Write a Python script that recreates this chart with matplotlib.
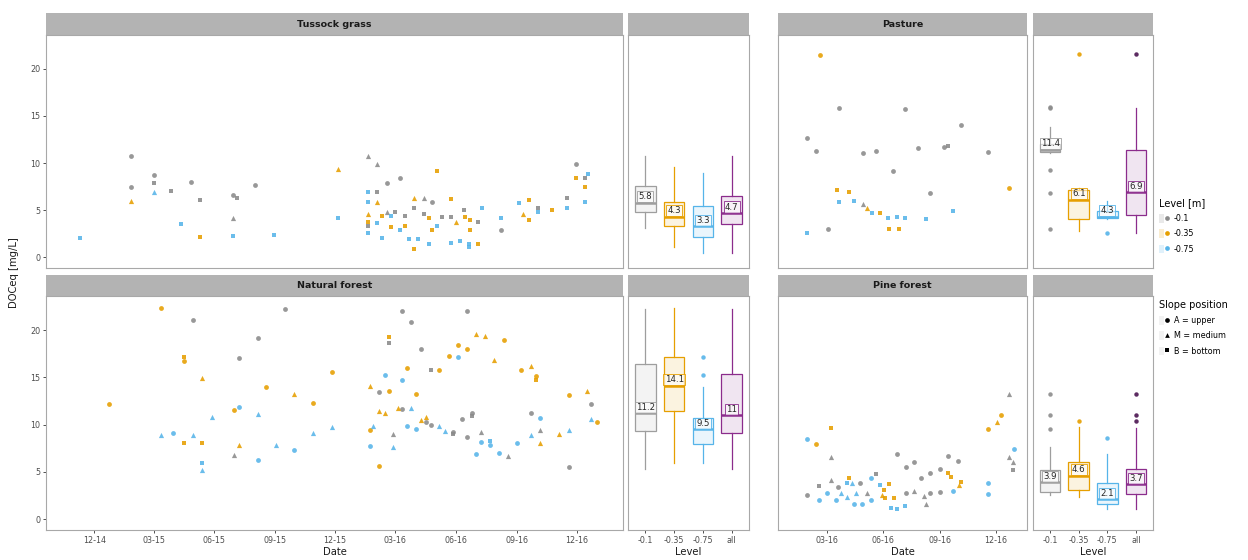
import matplotlib
matplotlib.use('Agg')
import matplotlib.pyplot as plt
import matplotlib.dates as mdates
from matplotlib.lines import Line2D
from matplotlib.patches import Patch
from matplotlib.legend_handler import HandlerTuple
import pandas as pd

# ---------------- data ----------------
levels = ["-0.1", "-0.35", "-0.75"]
box_cats = ["-0.1", "-0.35", "-0.75", "all"]
slopes = ["A", "M", "B"]
slope_labels = ["A = upper", "M = medium", "B = bottom"]

tg_dates = ["2014-11-10", "2015-01-26", "2015-01-26", "2015-01-26", "2015-03-02", "2015-03-02", "2015-03-02",
            "2015-03-27", "2015-04-12", "2015-04-26", "2015-05-10", "2015-05-10", "2015-06-29", "2015-07-06",
            "2015-06-29", "2015-06-29", "2015-08-02", "2015-08-30", "2015-12-06", "2015-12-06", "2016-01-19",
            "2016-02-02", "2016-01-19", "2016-01-19", "2016-02-02", "2016-02-02", "2016-01-19", "2016-01-19",
            "2016-01-19", "2016-01-19", "2016-02-02", "2016-02-10", "2016-02-10", "2016-02-17", "2016-02-17",
            "2016-02-23", "2016-02-23", "2016-02-29", "2016-03-08", "2016-03-08", "2016-03-16", "2016-03-16",
            "2016-03-22", "2016-03-29", "2016-03-29", "2016-03-29", "2016-04-05", "2016-04-13", "2016-04-13",
            "2016-04-21", "2016-04-21", "2016-04-26", "2016-04-26", "2016-05-04", "2016-05-04", "2016-05-11",
            "2016-05-25", "2016-05-25", "2016-05-25", "2016-06-01", "2016-06-07", "2016-06-13", "2016-06-15",
            "2016-06-21", "2016-06-21", "2016-06-22", "2016-06-22", "2016-07-04", "2016-07-04", "2016-07-11",
            "2016-08-08", "2016-08-08", "2016-09-05", "2016-09-11", "2016-09-19", "2016-09-19", "2016-10-03",
            "2016-10-03", "2016-10-24", "2016-11-16", "2016-11-16", "2016-11-30", "2016-11-30", "2016-12-13",
            "2016-12-13", "2016-12-13", "2016-12-18"]
tg_values = [2.0, 10.7, 7.5, 6.0, 8.7, 7.9, 6.9, 7.0, 3.5, 8.0, 6.1, 2.1, 6.6, 6.3, 4.2, 2.2, 7.7, 2.4, 9.4, 4.2,
             10.8, 9.9, 6.9, 5.9, 6.9, 5.9, 4.6, 3.7, 3.3, 2.6, 3.6, 2.0, 4.4, 7.9, 4.8, 4.4, 3.2, 4.8, 8.4, 2.9,
             4.4, 3.3, 1.9, 0.9, 6.3, 5.2, 1.9, 6.3, 4.6, 1.4, 4.2, 5.9, 2.9, 9.2, 3.3, 4.3, 6.2, 4.3, 1.5, 3.7,
             1.7, 5.0, 4.3, 1.4, 1.1, 2.9, 3.9, 3.7, 1.4, 5.2, 4.2, 2.9, 5.8, 4.6, 6.1, 3.9, 5.2, 4.8, 5.0, 6.3,
             5.2, 9.9, 8.4, 8.4, 7.5, 5.9, 8.8]
tg_levels = ["-0.75", "-0.1", "-0.1", "-0.35", "-0.1", "-0.1", "-0.75", "-0.1", "-0.75", "-0.1", "-0.1", "-0.35",
             "-0.1", "-0.1", "-0.1", "-0.75", "-0.1", "-0.75", "-0.35", "-0.75", "-0.1", "-0.1", "-0.75", "-0.75",
             "-0.1", "-0.35", "-0.35", "-0.35", "-0.1", "-0.75", "-0.75", "-0.75", "-0.35", "-0.1", "-0.1", "-0.75",
             "-0.35", "-0.1", "-0.1", "-0.75", "-0.1", "-0.35", "-0.75", "-0.35", "-0.35", "-0.1", "-0.75", "-0.1",
             "-0.1", "-0.75", "-0.35", "-0.1", "-0.35", "-0.35", "-0.75", "-0.1", "-0.35", "-0.1", "-0.75", "-0.35",
             "-0.75", "-0.1", "-0.35", "-0.75", "-0.75", "-0.35", "-0.35", "-0.1", "-0.35", "-0.75", "-0.75", "-0.1",
             "-0.75", "-0.35", "-0.35", "-0.35", "-0.1", "-0.75", "-0.35", "-0.1", "-0.75", "-0.1", "-0.35", "-0.1",
             "-0.35", "-0.75", "-0.75"]
tg_slopes = ["B", "A", "A", "M", "A", "B", "M", "B", "B", "A", "B", "B", "A", "B", "M", "B", "A", "B", "M", "B",
             "M", "M", "B", "B", "B", "M", "M", "B", "B", "B", "B", "B", "B", "A", "M", "B", "B", "B", "A", "B",
             "B", "B", "B", "B", "M", "B", "B", "M", "B", "B", "B", "A", "B", "B", "B", "B", "B", "B", "B", "M",
             "B", "B", "B", "B", "B", "B", "B", "B", "B", "B", "B", "A", "B", "M", "B", "B", "B", "B", "B", "B",
             "B", "A", "B", "B", "B", "B", "B"]

nf_dates = ["2014-12-23", "2015-03-12", "2015-03-12", "2015-03-31", "2015-04-16", "2015-04-16", "2015-04-16",
            "2015-04-30", "2015-04-30", "2015-05-14", "2015-05-14", "2015-05-14", "2015-05-14", "2015-05-28",
            "2015-07-01", "2015-07-01", "2015-07-09", "2015-07-09", "2015-07-09", "2015-08-06", "2015-08-06",
            "2015-08-06", "2015-08-18", "2015-09-02", "2015-09-16", "2015-09-30", "2015-09-30", "2015-10-28",
            "2015-10-28", "2015-11-26", "2015-11-26", "2016-01-23", "2016-01-23", "2016-01-23", "2016-01-28",
            "2016-02-06", "2016-02-06", "2016-02-06", "2016-02-14", "2016-02-14", "2016-02-21", "2016-02-21",
            "2016-02-21", "2016-02-27", "2016-02-27", "2016-03-05", "2016-03-11", "2016-03-11", "2016-03-11",
            "2016-03-19", "2016-03-19", "2016-03-25", "2016-03-25", "2016-04-01", "2016-04-01", "2016-04-09",
            "2016-04-09", "2016-04-16", "2016-04-16", "2016-04-24", "2016-04-24", "2016-05-07", "2016-05-07",
            "2016-05-15", "2016-05-21", "2016-05-28", "2016-05-28", "2016-06-04", "2016-06-04", "2016-06-10",
            "2016-06-18", "2016-06-18", "2016-06-18", "2016-06-25", "2016-06-25", "2016-07-01", "2016-07-01",
            "2016-07-09", "2016-07-09", "2016-07-15", "2016-07-23", "2016-07-23", "2016-07-28", "2016-08-05",
            "2016-08-12", "2016-08-19", "2016-09-01", "2016-09-08", "2016-09-22", "2016-09-22", "2016-09-22",
            "2016-09-30", "2016-09-30", "2016-10-06", "2016-10-06", "2016-10-06", "2016-11-04", "2016-11-19",
            "2016-11-19", "2016-11-19", "2016-12-17", "2016-12-23", "2016-12-23", "2016-12-31"]
nf_values = [12.2, 22.3, 8.9, 9.1, 17.1, 16.7, 8.1, 21.1, 8.9, 14.9, 8.0, 5.9, 5.2, 10.8, 6.8, 11.5, 17.0, 11.9,
             7.8, 19.2, 11.1, 6.3, 14.0, 7.8, 22.2, 13.2, 7.3, 12.3, 9.1, 15.6, 9.7, 14.1, 9.4, 7.7, 9.8, 13.4,
             11.4, 5.6, 15.2, 11.2, 19.3, 18.6, 13.6, 9.0, 7.6, 11.8, 22.0, 14.7, 11.6, 16.0, 9.8, 20.9, 11.8,
             13.2, 9.5, 18.0, 10.5, 10.8, 10.3, 15.8, 10.0, 15.8, 9.9, 9.3, 17.3, 9.2, 9.0, 18.4, 17.1, 10.6,
             22.0, 18.0, 8.7, 11.2, 10.9, 19.6, 6.9, 9.2, 8.2, 19.4, 8.3, 7.8, 16.8, 7.0, 18.9, 6.7, 8.1, 15.8,
             16.2, 8.9, 11.2, 15.1, 14.7, 10.7, 9.4, 8.0, 9.0, 13.1, 9.4, 5.5, 13.5, 12.2, 10.6, 10.3]
nf_levels = ["-0.35", "-0.35", "-0.75", "-0.75", "-0.35", "-0.35", "-0.35", "-0.1", "-0.75", "-0.35", "-0.35",
             "-0.75", "-0.75", "-0.75", "-0.1", "-0.35", "-0.1", "-0.75", "-0.35", "-0.1", "-0.75", "-0.75",
             "-0.35", "-0.75", "-0.1", "-0.35", "-0.75", "-0.35", "-0.75", "-0.35", "-0.75", "-0.35", "-0.35",
             "-0.75", "-0.75", "-0.1", "-0.35", "-0.35", "-0.75", "-0.35", "-0.35", "-0.1", "-0.35", "-0.1",
             "-0.75", "-0.35", "-0.1", "-0.75", "-0.1", "-0.35", "-0.75", "-0.1", "-0.75", "-0.35", "-0.75",
             "-0.1", "-0.35", "-0.35", "-0.1", "-0.1", "-0.1", "-0.35", "-0.75", "-0.75", "-0.35", "-0.1", "-0.1",
             "-0.35", "-0.75", "-0.1", "-0.1", "-0.35", "-0.1", "-0.1", "-0.1", "-0.35", "-0.75", "-0.1", "-0.75",
             "-0.35", "-0.75", "-0.75", "-0.35", "-0.75", "-0.35", "-0.1", "-0.75", "-0.35", "-0.35", "-0.75",
             "-0.1", "-0.35", "-0.35", "-0.75", "-0.1", "-0.35", "-0.35", "-0.35", "-0.75", "-0.1", "-0.35",
             "-0.1", "-0.75", "-0.35"]
nf_slopes = ["A", "A", "M", "A", "B", "A", "B", "A", "M", "M", "B", "B", "M", "M", "M", "A", "A", "A", "M", "A",
             "M", "A", "A", "M", "A", "M", "A", "A", "M", "A", "M", "M", "A", "A", "M", "A", "M", "A", "A", "M",
             "B", "B", "A", "M", "M", "M", "A", "A", "A", "A", "A", "A", "M", "A", "A", "A", "M", "M", "A", "B",
             "A", "A", "M", "M", "A", "A", "B", "A", "A", "A", "A", "A", "A", "A", "B", "M", "A", "M", "A", "M",
             "B", "A", "M", "A", "A", "M", "A", "A", "M", "M", "A", "A", "B", "A", "M", "M", "M", "A", "M", "A",
             "M", "A", "M", "A"]

pa_dates = ["2016-01-29", "2016-01-29", "2016-02-13", "2016-02-20", "2016-03-04", "2016-03-18", "2016-03-22",
            "2016-03-22", "2016-04-07", "2016-04-15", "2016-04-29", "2016-04-29", "2016-05-05", "2016-05-14",
            "2016-05-20", "2016-05-27", "2016-06-09", "2016-06-11", "2016-06-17", "2016-06-23", "2016-06-26",
            "2016-07-06", "2016-07-06", "2016-07-28", "2016-08-10", "2016-08-17", "2016-09-08", "2016-09-15",
            "2016-09-22", "2016-10-06", "2016-11-19", "2016-12-23"]
pa_values = [12.7, 2.6, 11.3, 21.5, 3.0, 7.1, 15.8, 5.9, 6.9, 6.0, 11.1, 5.7, 5.2, 4.7, 11.3, 4.7, 4.2, 3.0, 9.2,
             4.3, 3.0, 15.7, 4.2, 11.6, 4.1, 6.8, 11.7, 11.8, 4.9, 14.0, 11.2, 7.3]
pa_levels = ["-0.1", "-0.75", "-0.1", "-0.35", "-0.1", "-0.35", "-0.1", "-0.75", "-0.35", "-0.75", "-0.1", "-0.1",
             "-0.35", "-0.75", "-0.1", "-0.35", "-0.75", "-0.35", "-0.1", "-0.75", "-0.35", "-0.1", "-0.75", "-0.1",
             "-0.75", "-0.1", "-0.1", "-0.1", "-0.75", "-0.1", "-0.1", "-0.35"]
pa_slopes = ["A", "B", "A", "A", "A", "B", "A", "B", "B", "B", "A", "M", "M", "B", "A", "B", "B", "B", "A", "B",
             "B", "A", "B", "A", "B", "A", "A", "B", "B", "A", "A", "A"]

pf_dates = ["2016-01-29", "2016-01-29", "2016-02-13", "2016-02-17", "2016-02-17", "2016-03-02", "2016-03-09",
            "2016-03-09", "2016-03-09", "2016-03-17", "2016-03-19", "2016-03-24", "2016-04-03", "2016-04-03",
            "2016-04-07", "2016-04-12", "2016-04-14", "2016-04-18", "2016-04-25", "2016-04-28", "2016-05-05",
            "2016-05-12", "2016-05-13", "2016-05-20", "2016-05-27", "2016-05-30", "2016-06-03", "2016-06-04",
            "2016-06-11", "2016-06-14", "2016-06-19", "2016-06-24", "2016-06-24", "2016-07-06", "2016-07-08",
            "2016-07-08", "2016-07-21", "2016-07-21", "2016-08-02", "2016-08-07", "2016-08-10", "2016-08-17",
            "2016-08-17", "2016-09-01", "2016-09-01", "2016-09-15", "2016-09-15", "2016-09-20", "2016-09-23",
            "2016-09-30", "2016-10-02", "2016-10-06", "2016-11-19", "2016-11-19", "2016-11-19", "2016-12-03",
            "2016-12-09", "2016-12-23", "2016-12-31", "2016-12-23", "2016-12-29", "2016-12-29"]
pf_values = [8.5, 2.5, 7.9, 2.0, 3.5, 2.8, 9.6, 6.6, 4.1, 2.0, 3.4, 2.8, 2.3, 3.8, 4.4, 3.8, 1.6, 2.8, 3.8, 1.6,
             2.8, 2.0, 4.3, 4.8, 3.6, 2.6, 3.1, 2.2, 3.7, 1.2, 2.2, 6.9, 1.1, 1.4, 2.8, 5.5, 6.0, 3.0, 4.3, 2.4,
             1.6, 4.9, 2.8, 5.3, 2.9, 6.7, 4.9, 4.5, 3.0, 6.2, 3.6, 3.9, 9.5, 3.8, 2.7, 10.3, 11.0, 13.2, 7.4,
             6.6, 6.0, 5.2]
pf_levels = ["-0.75", "-0.1", "-0.35", "-0.75", "-0.1", "-0.75", "-0.35", "-0.1", "-0.1", "-0.75", "-0.1", "-0.75",
             "-0.75", "-0.75", "-0.35", "-0.75", "-0.75", "-0.75", "-0.1", "-0.75", "-0.1", "-0.75", "-0.75", "-0.1",
             "-0.75", "-0.35", "-0.35", "-0.35", "-0.35", "-0.75", "-0.35", "-0.1", "-0.75", "-0.75", "-0.1", "-0.1",
             "-0.1", "-0.1", "-0.1", "-0.1", "-0.1", "-0.1", "-0.1", "-0.1", "-0.1", "-0.1", "-0.35", "-0.35",
             "-0.75", "-0.1", "-0.35", "-0.35", "-0.35", "-0.75", "-0.75", "-0.35", "-0.35", "-0.1", "-0.75", "-0.1",
             "-0.1", "-0.1"]
pf_slopes = ["A", "A", "A", "A", "B", "A", "B", "M", "M", "A", "A", "M", "M", "B", "B", "M", "A", "M", "A", "A",
             "M", "A", "A", "B", "B", "M", "B", "B", "B", "B", "B", "A", "B", "B", "A", "A", "A", "M", "A", "M",
             "M", "A", "A", "A", "A", "A", "B", "B", "A", "A", "M", "B", "A", "A", "A", "M", "A", "M", "A", "M",
             "M", "B"]

# box statistics: [whisker low, q1, median, q3, whisker high] per category
tg_box = [[3.1, 4.8, 5.8, 7.6, 10.8], [1.05, 3.3, 4.3, 5.9, 9.6], [0.4, 2.1, 3.3, 5.4, 8.9], [0.4, 3.5, 4.7, 6.45, 10.8]]
tg_out = [[], [], [], []]
nf_box = [[5.3, 9.3, 11.2, 16.4, 22.2], [5.95, 11.4, 14.1, 17.1, 22.3], [5.95, 7.9, 9.5, 10.7, 14.0], [5.3, 9.1, 11.0, 15.4, 22.2]]
nf_out = [[], [], [17.2, 15.2], []]
pa_box = [[11.1, 11.2, 11.4, 12.0, 13.8], [2.8, 4.1, 6.1, 7.1, 7.3], [4.1, 4.2, 4.3, 4.9, 6.0], [2.6, 4.5, 6.9, 11.4, 15.8]]
pa_out = [[15.9, 15.8, 9.3, 6.8, 3.0], [21.6], [2.6], [21.6]]
pf_box = [[2.6, 2.9, 3.9, 5.2, 7.6], [2.35, 3.1, 4.6, 6.05, 9.7], [1.1, 1.65, 2.1, 3.8, 6.9], [1.1, 2.65, 3.7, 5.35, 9.6]]
pf_out = [[13.2, 11.0, 9.5], [10.4], [8.6], [13.2, 11.0, 10.4]]

panel_titles = ["Tussock grass", "Pasture", "Natural forest", "Pine forest"]

# ---------------- style ----------------
lvl_colors = {"-0.1": "#8A8A8A", "-0.35": "#E69F00", "-0.75": "#56B4E9", "all": "#8B2C8C"}
box_colors = {"-0.1": "#9E9E9E", "-0.35": "#E69F00", "-0.75": "#56B4E9", "all": "#8B2C8C"}
flier_colors = {"-0.1": "#8C8C8C", "-0.35": "#E69F00", "-0.75": "#56B4E9", "all": "#4A1450"}
slope_markers = {"A": "o", "M": "^", "B": "s"}
slope_sizes = {"A": 12, "M": 14, "B": 10.5}

W, H = 1248, 560
fig = plt.figure(figsize=(W / 100, H / 100), dpi=100)


def rect(x0, y0, x1, y1):
    return [x0 / W, 1 - y1 / H, (x1 - x0) / W, (y1 - y0) / H]


rows = [(35, 268, 13), (296, 530, 275)]
cols = [(46, 623), (628, 749), (778, 1027), (1033, 1153)]
YLIM = (-1.15, 23.6)
SPINE = "#A8A8A8"
TICKC = "#4D4D4D"

scatter_sets = {
    "Tussock grass": (tg_dates, tg_values, tg_levels, tg_slopes, tg_box, tg_out, 0, 0),
    "Pasture": (pa_dates, pa_values, pa_levels, pa_slopes, pa_box, pa_out, 0, 2),
    "Natural forest": (nf_dates, nf_values, nf_levels, nf_slopes, nf_box, nf_out, 1, 0),
    "Pine forest": (pf_dates, pf_values, pf_levels, pf_slopes, pf_box, pf_out, 1, 2),
}
xlims = {0: ("2014-09-19", "2017-02-09"), 2: ("2015-12-13", "2017-01-21")}


def style_axes(ax):
    ax.set_facecolor("white")
    for s in ax.spines.values():
        s.set_color(SPINE)
        s.set_linewidth(0.8)
    ax.tick_params(axis="both", colors="#333333", labelcolor=TICKC, labelsize=5.8, length=2.5, width=0.6, pad=1.5)
    ax.set_ylim(*YLIM)


def add_strip(x0, x1, y0, y1, text):
    sax = fig.add_axes(rect(x0, y0, x1, y1))
    sax.set_facecolor("#B3B3B3")
    for s in sax.spines.values():
        s.set_visible(False)
    sax.set_xticks([])
    sax.set_yticks([])
    if text:
        sax.text(0.5, 0.48, text, ha="center", va="center", fontsize=6.8, fontweight="bold", color="#1A1A1A",
                 transform=sax.transAxes)


for title, (dts, vals, lvls, slps, bstats, bouts, r, c) in scatter_sets.items():
    top, bottom, stop = rows[r]
    x0, x1 = cols[c]
    bx0, bx1 = cols[c + 1]
    add_strip(x0, x1, stop, top, title)
    add_strip(bx0, bx1, stop, top, "")

    df = pd.DataFrame({"date": pd.to_datetime(dts), "value": vals, "level": lvls, "slope": slps})
    ax = fig.add_axes(rect(x0, top, x1, bottom))
    style_axes(ax)
    for lv in levels:
        for sl in slopes:
            sub = df[(df.level == lv) & (df.slope == sl)]
            if len(sub):
                ax.scatter(sub.date, sub.value, marker=slope_markers[sl], s=slope_sizes[sl], c=lvl_colors[lv],
                           alpha=0.88, linewidths=0, zorder=3)
    lo, hi = xlims[c]
    ax.set_xlim(pd.Timestamp(lo), pd.Timestamp(hi))
    ax.xaxis.set_major_locator(mdates.MonthLocator(bymonth=[3, 6, 9, 12]))
    ax.xaxis.set_major_formatter(mdates.DateFormatter("%m-%y"))
    ax.set_yticks([0, 5, 10, 15, 20])
    if c != 0:
        ax.tick_params(axis="y", left=False, labelleft=False)
    if r == 0:
        ax.tick_params(axis="x", bottom=False, labelbottom=False)
    else:
        ax.set_xlabel("Date", fontsize=7.2, color="#1A1A1A", labelpad=2)

    # boxplot panel
    bax = fig.add_axes(rect(bx0, top, bx1, bottom))
    style_axes(bax)
    stats = []
    for i, cat in enumerate(box_cats):
        wl, q1, md, q3, wh = bstats[i]
        stats.append(dict(whislo=wl, q1=q1, med=md, q3=q3, whishi=wh, fliers=bouts[i], label=cat))
    for i, cat in enumerate(box_cats):
        col = box_colors[cat]
        bp = bax.bxp([stats[i]], positions=[i + 1], widths=0.72, patch_artist=True, showcaps=False,
                     boxprops=dict(facecolor=col, edgecolor=col, linewidth=0.9, alpha=1),
                     whiskerprops=dict(color=col, linewidth=0.9),
                     medianprops=dict(color=col, linewidth=1.8),
                     flierprops=dict(marker="o", markersize=3.2, markerfacecolor=flier_colors[cat],
                                     markeredgewidth=0, alpha=0.9))
        for b in bp["boxes"]:
            b.set_facecolor((1, 1, 1, 1))
            b.set_edgecolor(col)
        bax.bxp([stats[i]], positions=[i + 1], widths=0.72, patch_artist=True, showcaps=False,
                showfliers=False, boxprops=dict(facecolor=col, edgecolor="none", alpha=0.12),
                whiskerprops=dict(linewidth=0), medianprops=dict(linewidth=0))
        md = stats[i]["med"]
        bax.text(i + 1, md + 0.15, f"{md:g}", ha="center", va="bottom", fontsize=6.2, color="#262626", zorder=6,
                 bbox=dict(boxstyle="square,pad=0.12", fc=(1, 1, 1, 0.55), ec=col, lw=0.6))
    bax.set_xlim(0.4, 4.6)
    bax.set_xticks([1, 2, 3, 4])
    bax.set_xticklabels(box_cats)
    bax.set_yticks([0, 5, 10, 15, 20])
    bax.tick_params(axis="y", left=False, labelleft=False)
    if r == 0:
        bax.tick_params(axis="x", bottom=False, labelbottom=False)
    else:
        bax.set_xlabel("Level", fontsize=7.2, color="#1A1A1A", labelpad=2)

fig.text(14 / W, 1 - 273 / H, "DOCeq [mg/L]", rotation=90, ha="center", va="center", fontsize=7.2, color="#1A1A1A")

# legends
lvl_handles = []
for lv in levels:
    lvl_handles.append((Patch(facecolor=lvl_colors[lv], alpha=0.18, edgecolor="none"),
                        Line2D([], [], marker="o", linestyle="none", markersize=3.4, markerfacecolor=lvl_colors[lv],
                               markeredgewidth=0)))
leg1 = fig.legend(lvl_handles, levels, title="Level [m]", loc="upper left", bbox_to_anchor=(1156 / W, 1 - 195 / H),
                  frameon=False, fontsize=5.8, title_fontsize=7, handlelength=1.3, handleheight=1.3,
                  handletextpad=0.5, labelspacing=0.75, alignment="left", borderaxespad=0,
                  handler_map={tuple: HandlerTuple(ndivide=None, pad=0)})
sl_handles = [(Patch(facecolor="#F2F2F2", edgecolor="none"),
               Line2D([], [], marker=slope_markers[s], linestyle="none", markersize=3.4, markerfacecolor="black",
                      markeredgewidth=0)) for s in slopes]
leg2 = fig.legend(sl_handles, slope_labels, title="Slope position", loc="upper left",
                  bbox_to_anchor=(1156 / W, 1 - 297 / H), frameon=False, fontsize=5.8, title_fontsize=7,
                  handlelength=1.3, handleheight=1.3, handletextpad=0.5, labelspacing=0.75, alignment="left",
                  borderaxespad=0, handler_map={tuple: HandlerTuple(ndivide=None, pad=0)})

fig.savefig("out.png", dpi=100)
